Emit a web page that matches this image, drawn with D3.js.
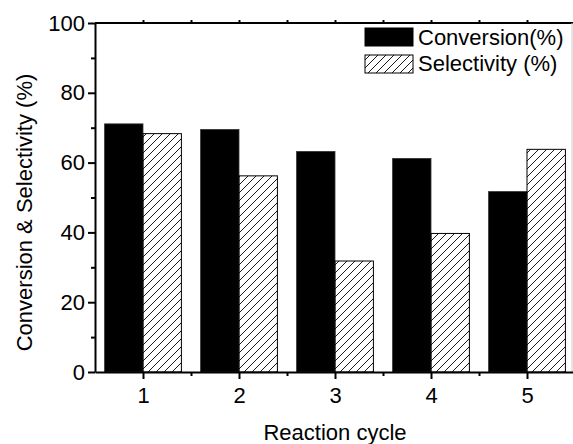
<!DOCTYPE html>
<html>
<head>
<meta charset="utf-8">
<script src="https://cdn.jsdelivr.net/npm/d3@7"></script>
<style>
  body { margin: 0; background: #fff; }
  text { font-family: "Liberation Sans", Arial, sans-serif; fill: #000; }
</style>
</head>
<body>
<svg id="chart" width="573" height="444"></svg>
<script>
var cycles = [1, 2, 3, 4, 5];
var conversion = [71.1, 69.5, 63.2, 61.2, 51.7];
var selectivity = [68.3, 56.2, 31.8, 39.7, 63.8];
var yTicks = [0, 20, 40, 60, 80, 100];
var yMinor = [10, 30, 50, 70, 90];
var xMinor = [1.5, 2.5, 3.5, 4.5];

var svg = d3.select("#chart");
var width = +svg.attr("width");

var x = d3.scaleLinear().domain([0.5, 5.5]).range([95, 575]);
var y = d3.scaleLinear().domain([0, 100]).range([372, 23]);
var unit = x(2) - x(1);
var barW = unit * 0.4;

// hatch pattern for selectivity
var defs = svg.append("defs");
var pat = defs.append("pattern")
    .attr("id", "hatch")
    .attr("patternUnits", "userSpaceOnUse")
    .attr("width", 8)
    .attr("height", 8);
pat.append("path")
    .attr("d", "M-2,2 L2,-2 M0,8 L8,0 M6,10 L10,6")
    .attr("stroke", "#000")
    .attr("stroke-width", 0.9);

// bars
svg.append("g").selectAll("rect")
    .data(cycles)
    .enter()
    .append("rect")
    .attr("x", function (d) { return x(d) - barW; })
    .attr("y", function (d, i) { return y(conversion[i]); })
    .attr("width", barW)
    .attr("height", function (d, i) { return y(0) - y(conversion[i]); })
    .attr("fill", "#000")
    .attr("stroke", "#333")
    .attr("stroke-width", 0.8);

svg.append("g").selectAll("rect")
    .data(cycles)
    .enter()
    .append("rect")
    .attr("x", function (d) { return x(d); })
    .attr("y", function (d, i) { return y(selectivity[i]); })
    .attr("width", barW)
    .attr("height", function (d, i) { return y(0) - y(selectivity[i]); })
    .attr("fill", "url(#hatch)")
    .attr("stroke", "#000")
    .attr("stroke-width", 1);

// frame: top and right
svg.append("line")
    .attr("x1", x.range()[0]).attr("x2", width)
    .attr("y1", y(100)).attr("y2", y(100))
    .attr("stroke", "#000").attr("stroke-width", 2);
svg.append("line")
    .attr("x1", width - 1).attr("x2", width - 1)
    .attr("y1", y(100)).attr("y2", y(0))
    .attr("stroke", "#ccc").attr("stroke-width", 1);

// y axis
svg.append("g")
    .attr("transform", "translate(" + x.range()[0] + ",0)")
    .call(d3.axisLeft(y).tickValues(yTicks).tickSize(7).tickPadding(3).tickSizeOuter(0));
svg.append("g")
    .attr("transform", "translate(" + x.range()[0] + ",0)")
    .call(d3.axisLeft(y).tickValues(yMinor).tickSize(4).tickFormat("").tickSizeOuter(0))
    .select(".domain").remove();

// x axis
svg.append("g")
    .attr("transform", "translate(0," + y(0) + ")")
    .call(d3.axisBottom(x).tickValues(cycles).tickSize(7).tickPadding(8).tickFormat(d3.format("d")).tickSizeOuter(0));
svg.append("g")
    .attr("transform", "translate(0," + y(0) + ")")
    .call(d3.axisBottom(x).tickValues(xMinor).tickSize(4).tickFormat("").tickSizeOuter(0))
    .select(".domain").remove();

// top axis small ticks
svg.append("g")
    .attr("transform", "translate(0," + y(100) + ")")
    .call(d3.axisTop(x).tickValues(cycles.concat(xMinor)).tickSize(3).tickFormat("").tickSizeOuter(0))
    .select(".domain").remove();

svg.selectAll(".domain").attr("stroke-width", 2);
svg.selectAll(".tick line").attr("stroke-width", 2);
svg.selectAll(".tick text")
    .style("font-family", "'Liberation Sans', Arial, sans-serif")
    .style("font-size", "22px");

// axis titles
svg.append("text")
    .attr("x", (x.range()[0] + x.range()[1]) / 2)
    .attr("y", 440)
    .attr("text-anchor", "middle")
    .style("font-size", "22px")
    .text("Reaction cycle");

svg.append("text")
    .attr("transform", "translate(32," + ((y(0) + y(100)) / 2 + 15) + ") rotate(-90)")
    .attr("text-anchor", "middle")
    .style("font-size", "22px")
    .text("Conversion & Selectivity (%)");

// legend
var legendItems = [
    { label: "Conversion(%)", fill: "#000" },
    { label: "Selectivity (%)", fill: "url(#hatch)" }
];
var legend = svg.append("g").attr("transform", "translate(365,28)");
legend.selectAll("rect")
    .data(legendItems)
    .enter()
    .append("rect")
    .attr("x", 0)
    .attr("y", function (d, i) { return i * 27; })
    .attr("width", 48)
    .attr("height", 18)
    .attr("fill", function (d) { return d.fill; })
    .attr("stroke", "#000")
    .attr("stroke-width", 1);
legend.selectAll("text")
    .data(legendItems)
    .enter()
    .append("text")
    .attr("x", 53)
    .attr("y", function (d, i) { return 17 + i * 26; })
    .style("font-size", "22px")
    .text(function (d) { return d.label; });
</script>
</body>
</html>
